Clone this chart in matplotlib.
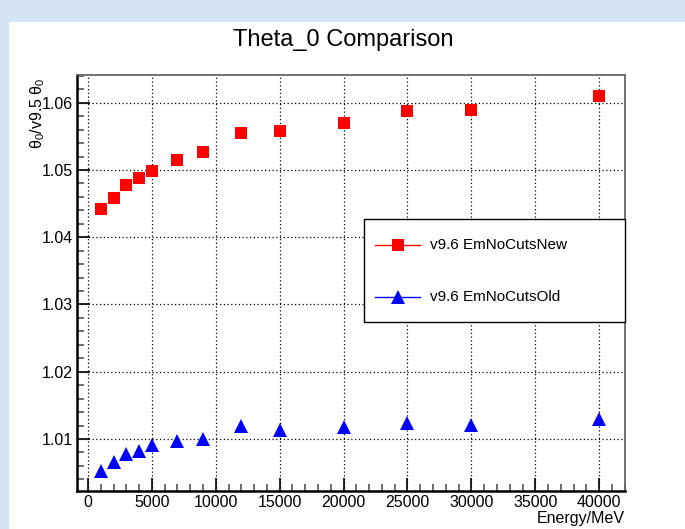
import numpy as np
import matplotlib
matplotlib.use('Agg')
import matplotlib.pyplot as plt
from matplotlib.lines import Line2D
from matplotlib.patches import Rectangle
from matplotlib.ticker import MultipleLocator, FormatStrFormatter

plt.rcParams.update({
    'font.family': ['Liberation Sans', 'DejaVu Sans'],
    'mathtext.fontset': 'custom',
    'mathtext.rm': 'Liberation Sans',
    'mathtext.it': 'Liberation Sans:italic',
})

# Data
energy = [1000, 2000, 3000, 4000, 5000, 7000, 9000, 12000, 15000, 20000, 25000, 30000, 40000]
ratio_new = [1.0442, 1.0458, 1.0478, 1.0488, 1.0499, 1.0515, 1.0527,
             1.0555, 1.0558, 1.0570, 1.0587, 1.0589, 1.0610]
ratio_old = [1.0052, 1.0066, 1.0078, 1.0082, 1.0091, 1.0097, 1.0100,
             1.0119, 1.0113, 1.0118, 1.0124, 1.0121, 1.0130]
label_new = 'v9.6 EmNoCutsNew'
label_old = 'v9.6 EmNoCutsOld'

W, H = 685, 529


def fx(px):
    return px / W


def fy(py):
    return 1 - py / H


fig = plt.figure(figsize=(W / 100, H / 100), dpi=100)
fig.patch.set_facecolor('#d4e4f2')
fig.patches.append(Rectangle((fx(9), 0), 1, fy(22), transform=fig.transFigure,
                             facecolor='white', edgecolor='none', zorder=-10))

ax = fig.add_axes([fx(77), fy(491), fx(625 - 77), (491 - 75) / H])
ax.set_zorder(5)
ax.set_facecolor('white')

styles = [dict(marker='s', color='red', markersize=8.6),
          dict(marker='^', color='blue', markersize=9.5)]
ax.plot(energy, ratio_new, linestyle='none', markeredgewidth=0, zorder=5, **styles[0])
ax.plot(energy, ratio_old, linestyle='none', markeredgewidth=0, zorder=5, **styles[1])

ax.set_xlim(-860, 42020)
ax.set_ylim(1.00227, 1.06412)
ax.xaxis.set_major_locator(MultipleLocator(5000))
ax.xaxis.set_minor_locator(MultipleLocator(1000))
ax.yaxis.set_major_locator(MultipleLocator(0.01))
ax.yaxis.set_minor_locator(MultipleLocator(0.002))
ax.yaxis.set_major_formatter(FormatStrFormatter('%.2f'))

ax.tick_params(which='both', direction='in', top=False, right=False,
               labelsize=11.5, color='black')
ax.tick_params(which='major', length=9.5, width=1.2)
ax.tick_params(which='minor', length=5, width=1.2, color='#555555')
ax.tick_params(axis='both', pad=3)

ax.grid(True, which='major', color='black', linestyle=(0, (1, 2)), linewidth=0.9)
ax.set_axisbelow(True)

for s in ['left', 'bottom']:
    ax.spines[s].set_linewidth(1.8)
    ax.spines[s].set_color('black')
for s in ['top', 'right']:
    ax.spines[s].set_linewidth(1.3)
    ax.spines[s].set_color('#666666')

fig.text(fx(343), fy(40), 'Theta_0 Comparison', ha='center', va='center', fontsize=17)
fig.text(fx(625), fy(518), 'Energy/MeV', ha='right', va='center', fontsize=11.5)
fig.text(fx(38), fy(77), r'$\mathrm{\theta_0}$/v9.5 $\mathrm{\theta_0}$', ha='center',
         va='top', rotation=90, fontsize=11.5)

# ROOT-style legend box, drawn by hand so the spacing matches
fig.add_artist(Rectangle((fx(364), fy(322)), fx(625 - 364), 103 / H, transform=fig.transFigure,
                         facecolor='white', edgecolor='black', linewidth=1.0, zorder=10))
for row_y, st, lab in [(245, styles[0], label_new), (297, styles[1], label_old)]:
    fig.add_artist(Line2D([fx(375), fx(420)], [fy(row_y)] * 2, transform=fig.transFigure,
                          color=st['color'], lw=1, zorder=11))
    fig.add_artist(Line2D([fx(397.5)], [fy(row_y)], transform=fig.transFigure,
                          linestyle='none', markeredgewidth=0, zorder=12, **st))
    fig.text(fx(430), fy(row_y), lab, ha='left', va='center', fontsize=11, zorder=12)

fig.savefig('out.png', dpi=100, facecolor=fig.get_facecolor())
